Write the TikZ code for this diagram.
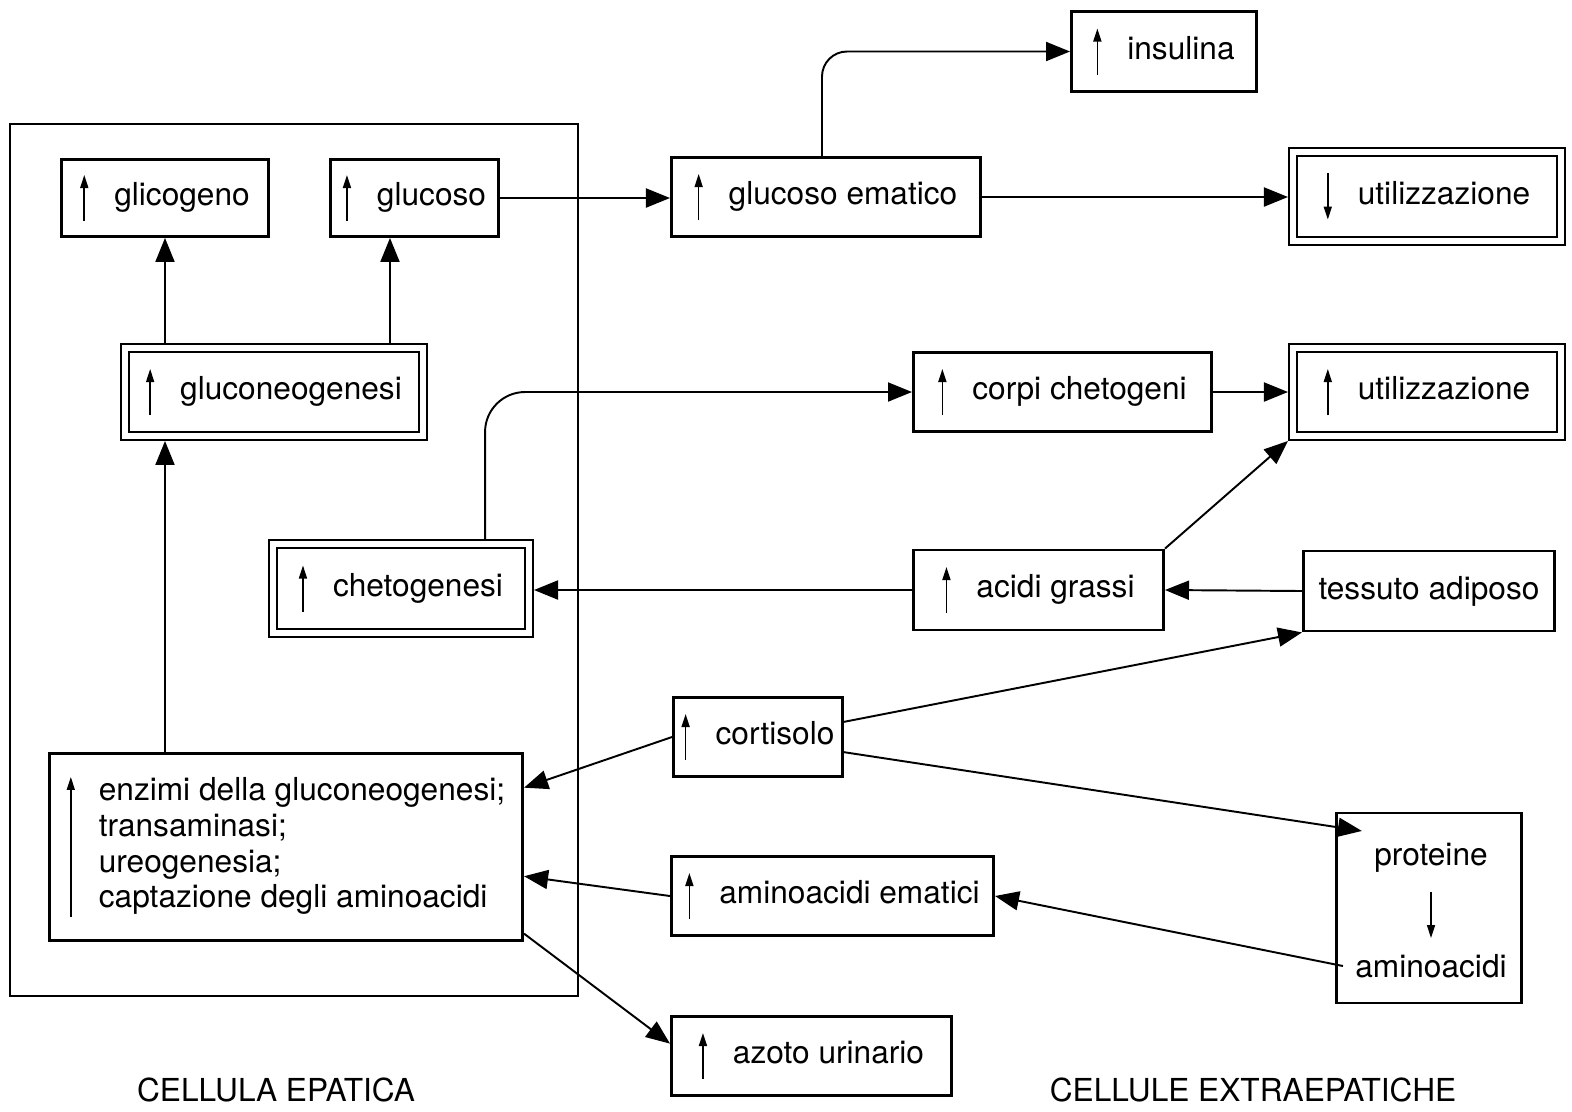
\documentclass[tikz,border=0pt]{standalone}
\usepackage{fontspec}
\setmainfont{TeX Gyre Heros}
\usepackage{tikz}
\usetikzlibrary{arrows.meta,calc}
\tikzset{
  box/.style={draw, line width=0.8pt, inner sep=0pt, align=center},
  dbox/.style={draw, line width=0.55pt, double, double distance=1.7pt, outer sep=1.4pt, inner sep=0pt, align=center},
  conn/.style={-{Triangle[length=0.24cm,width=0.19cm]}, line width=0.55pt},
  freccina/.style={-{Triangle[length=0.13cm,width=0.08cm]}, line width=0.45pt},
  cella/.style={draw, line width=0.6pt, inner sep=0pt}
}
\newcommand{\frsu}{\tikz[baseline=-0.25em]\draw[freccina] (0,-0.23cm) -- (0,0.23cm);\hspace{0.26cm}}
\newcommand{\frgiu}{\tikz[baseline=-0.25em]\draw[freccina] (0,0.23cm) -- (0,-0.23cm);\hspace{0.26cm}}
\newcommand{\frsulungo}{\tikz[baseline=-0.25em]\draw[freccina] (0,-0.7cm) -- (0,0.7cm);\hspace{0.24cm}}

\begin{document}
\begin{tikzpicture}[x=0.01cm, y=-0.01cm, font=\fontsize{9}{10.2}\selectfont]
  \useasboundingbox (0,0) rectangle (1572,1111);
  % cellula epatica
  \node[cella, minimum width=5.68cm, minimum height=8.72cm] (fegato) at (294,560) {};
  \node[box, minimum width=2.07cm, minimum height=0.77cm] (glicog) at (165,198) {\frsu glicogeno};
  \node[box, minimum width=1.68cm, minimum height=0.77cm] (gluc) at (414.5,198) {\frsu glucoso};
  \node[dbox, minimum width=2.98cm, minimum height=0.88cm] (gneo) at (274,392) {\frsu gluconeogenesi};
  \node[dbox, minimum width=2.56cm, minimum height=0.89cm] (chet) at (401,588.5) {\frsu chetogenesi};
  \node[box, minimum width=4.73cm, minimum height=1.87cm] (enz) at (286,847)
    {\frsulungo\begin{tabular}{@{}l@{}}enzimi della gluconeogenesi;\\ transaminasi;\\ ureogenesia;\\ captazione degli aminoacidi\end{tabular}};
  \node (epat) at (276,1090) {CELLULA EPATICA};
  % cellule extraepatiche
  \node[box, minimum width=3.09cm, minimum height=0.79cm] (gem) at (826,197) {\frsu glucoso ematico};
  \node[box, minimum width=1.85cm, minimum height=0.80cm] (ins) at (1164,51.5) {\frsu insulina};
  \node[dbox, minimum width=2.68cm, minimum height=0.89cm] (utgiu) at (1427,196.5) {\frgiu utilizzazione};
  \node[box, minimum width=2.98cm, minimum height=0.79cm] (corpi) at (1062.5,392) {\frsu corpi chetogeni};
  \node[dbox, minimum width=2.68cm, minimum height=0.88cm] (utsu) at (1427,392) {\frsu utilizzazione};
  \node[box, minimum width=2.50cm, minimum height=0.80cm] (acidi) at (1038.5,590) {\frsu acidi grassi};
  \node[box, minimum width=2.51cm, minimum height=0.80cm] (tess) at (1429,591) {tessuto adiposo};
  \node[box, minimum width=1.69cm, minimum height=0.79cm] (cort) at (758,737) {\frsu cortisolo};
  \node[box, minimum width=3.22cm, minimum height=0.79cm] (amem) at (832.5,896) {\frsu aminoacidi ematici};
  \node[box, minimum width=1.85cm, minimum height=1.90cm] (protbox) at (1429,908) {};
  \node (prot) at (1431,858) {proteine};
  \node (amin) at (1431,966) {aminoacidi};
  \node[box, minimum width=2.80cm, minimum height=0.79cm] (azo) at (811.5,1056) {\frsu azoto urinario};
  \node (extra) at (1253,1090) {CELLULE EXTRAEPATICHE};
  % frecce nel fegato
  \coordinate (g2) at ([xshift=-0.245cm]gluc.south);
  \draw[conn] (glicog.south |- gneo.north) -- (glicog.south);
  \draw[conn] (g2 |- gneo.north) -- (g2);
  \draw[conn] (glicog.south |- enz.north) -- (glicog.south |- gneo.south);
  % frecce verso l'esterno
  \draw[conn] (gluc.east) -- (gluc.east -| gem.west);
  \draw[conn, rounded corners=0.25cm] ([xshift=-0.04cm]gem.north) |- (ins.west);
  \draw[conn] (gem.east) -- (gem.east -| utgiu.west);
  \draw[conn, rounded corners=0.4cm] ([xshift=0.84cm]chet.north) |- (corpi.west);
  \draw[conn] (corpi.east) -- (utsu.west);
  \draw[conn] (acidi.north east) -- (utsu.south west);
  \draw[conn] (acidi.west) -- (acidi.west -| chet.east);
  \draw[conn] (tess.west) -- (acidi.east);
  \draw[conn] (cort.10) -- (tess.south west);
  \draw[conn] (cort.-10) -- (prot.north west);
  \draw[conn] (cort.west) -- (enz.14);
  \draw[conn] (amem.west) -- (enz.-7);
  \draw[conn] (enz.-20) -- (azo.175);
  \draw[conn] (amin.west) -- (amem.east);
  \draw[freccina] ($(prot)+(0,34)$) -- ($(amin)+(0,-28)$);
\end{tikzpicture}
\end{document}
